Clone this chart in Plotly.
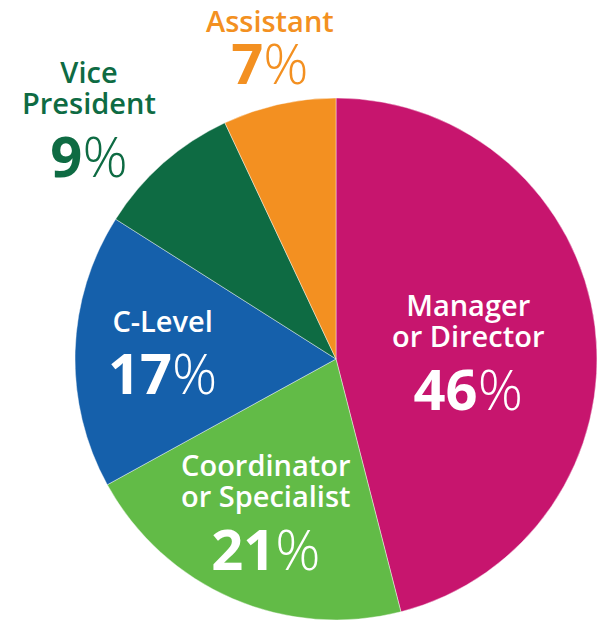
import plotly.graph_objects as go

W, H = 597, 622

categories = ["Manager or Director", "Coordinator or Specialist", "C-Level", "Vice President", "Assistant"]
label_lines = [["Manager", "or Director"], ["Coordinator", "or Specialist"], ["C-Level"], ["Vice", "President"], ["Assistant"]]
values = [46, 21, 17, 9, 7]
colors = ["#C7156E", "#62BB47", "#1560AB", "#0E6B43", "#F39021"]
text_colors = ["white", "white", "white", "#0E6B43", "#F39021"]

# label block layout (pixel centres) and base line-spacing size per block
block_x = [468, 266, 162, 89, 270]
block_y = [355, 515, 355, 122, 51]
line_size = [24, 24, 24, 24, 20]

# pie geometry in pixels
cx, cy, r = 336, 359, 261

fig = go.Figure(go.Pie(
    labels=categories,
    values=values,
    sort=False,
    direction="clockwise",
    rotation=0,
    marker=dict(colors=colors, line=dict(color="rgba(255,255,255,0.7)", width=0.6)),
    textinfo="none",
    hoverinfo="label+percent",
    showlegend=False,
    domain=dict(x=[(cx - r) / W, min(1, (cx + r) / W)],
                y=[max(0, 1 - (cy + r) / H), 1 - (cy - r) / H]),
))

FONT = "Open Sans"
ann = []
for i, cat in enumerate(categories):
    names = "<br>".join(f"<span style='font-size:29px;font-weight:600'>{ln}</span>" for ln in label_lines[i])
    num = f"<span style='font-size:56px'><b>{values[i]}</b>%</span>"
    ann.append(dict(x=block_x[i] / W, y=1 - block_y[i] / H, xref="paper", yref="paper",
                    text=names + "<br> <br>" + num, showarrow=False,
                    xanchor="center", yanchor="middle", align="center",
                    font=dict(family=FONT, size=line_size[i], color=text_colors[i], weight=300)))

fig.update_layout(
    width=W, height=H, autosize=False,
    margin=dict(l=0, r=0, t=0, b=0),
    paper_bgcolor="white", plot_bgcolor="white",
    annotations=ann,
)

fig.write_html(
    "out.html",
    config={"displayModeBar": False},
    post_script="document.body.style.margin='0';document.body.style.overflow='hidden';"
                "document.documentElement.style.overflow='hidden';",
)
